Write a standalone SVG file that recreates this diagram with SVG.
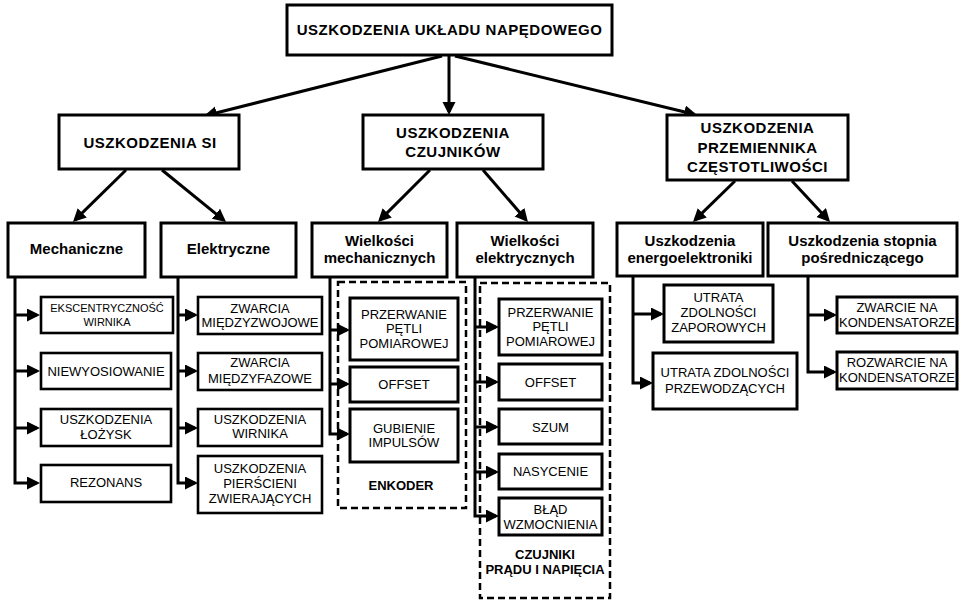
<svg xmlns="http://www.w3.org/2000/svg" width="960" height="601" viewBox="0 0 960 601">
<style>
  .bg{fill:#fff}
  .box{fill:#fff;stroke:#000;stroke-width:3}
  .leaf{fill:#fff;stroke:#000;stroke-width:2.6}
  .dash{fill:none;stroke:#000;stroke-width:2.5;stroke-dasharray:7 4}
  .h1{font-family:"Liberation Sans",Arial,sans-serif;font-weight:bold;font-size:15px;letter-spacing:0.5px;text-anchor:middle;fill:#000}
  .h2{font-family:"Liberation Sans",Arial,sans-serif;font-weight:bold;font-size:15px;text-anchor:middle;fill:#000}
  .t{font-family:"Liberation Sans",Arial,sans-serif;font-size:13px;text-anchor:middle;fill:#000}
  .ts{font-family:"Liberation Sans",Arial,sans-serif;font-size:11px;text-anchor:middle;fill:#000}
  .lab{font-family:"Liberation Sans",Arial,sans-serif;font-weight:bold;font-size:13px;text-anchor:middle;fill:#000}
  .c{fill:none;stroke:#000;stroke-width:3}
  .a{fill:none;stroke:#000;stroke-width:3;marker-end:url(#ah)}
</style>
<defs>
  <marker id="ah" markerUnits="userSpaceOnUse" markerWidth="15" markerHeight="14" refX="10" refY="6.5" orient="auto">
    <path d="M0,0 L13,6.5 L0,13 z" fill="#000"/>
  </marker>
</defs>
<rect class="bg" x="0" y="0" width="960" height="601"/>

<g id="connectors">
  <line class="a" x1="442" y1="56" x2="206.9" y2="115.3"/>
  <line class="a" x1="449" y1="56" x2="449" y2="112"/>
  <line class="a" x1="455" y1="56" x2="694.1" y2="114.3"/>
  <line class="a" x1="126" y1="170" x2="75.1" y2="219.9"/>
  <line class="a" x1="162" y1="170" x2="223.7" y2="220.1"/>
  <line class="a" x1="430" y1="170" x2="380.1" y2="219.9"/>
  <line class="a" x1="483" y1="170" x2="526" y2="219.7"/>
  <line class="a" x1="735" y1="181" x2="695.1" y2="219.9"/>
  <line class="a" x1="792" y1="181" x2="828" y2="219.8"/>
  <!-- Mechaniczne -->
  <path class="a" d="M15,277 V483 H37"/>
  <line class="a" x1="15" y1="315" x2="37" y2="315"/>
  <line class="a" x1="15" y1="371" x2="37" y2="371"/>
  <line class="a" x1="15" y1="428" x2="37" y2="428"/>
  <!-- Elektryczne -->
  <path class="a" d="M178,277 V483 H195"/>
  <line class="a" x1="178" y1="315" x2="195" y2="315"/>
  <line class="a" x1="178" y1="371" x2="195" y2="371"/>
  <line class="a" x1="178" y1="428" x2="195" y2="428"/>
  <!-- Wielkosci mechanicznych -->
  <path class="a" d="M330,277 V434 H347"/>
  <line class="a" x1="330" y1="330" x2="347" y2="330"/>
  <line class="a" x1="330" y1="384" x2="347" y2="384"/>
  <!-- Wielkosci elektrycznych -->
  <path class="a" d="M475,277 V516 H496"/>
  <line class="a" x1="475" y1="327" x2="496" y2="327"/>
  <line class="a" x1="475" y1="382" x2="496" y2="382"/>
  <line class="a" x1="475" y1="427" x2="496" y2="427"/>
  <line class="a" x1="475" y1="472" x2="496" y2="472"/>
  <!-- energoelektroniki -->
  <path class="a" d="M633,276 V383 H650"/>
  <line class="a" x1="633" y1="314" x2="661" y2="314"/>
  <!-- stopnia -->
  <path class="a" d="M808,276 V372 H834"/>
  <line class="a" x1="808" y1="315" x2="834" y2="315"/>
</g>

<g id="root">
  <rect class="box" x="287" y="5" width="325" height="50"/>
  <text class="h1" x="449.5" y="35">USZKODZENIA UKŁADU NAPĘDOWEGO</text>
</g>
<g id="si">
  <rect class="box" x="59" y="115" width="180" height="54"/>
  <text class="h1" x="150" y="148">USZKODZENIA SI</text>
</g>
<g id="czujnikow">
  <rect class="box" x="363" y="115" width="180" height="54"/>
  <text class="h1" x="453" y="138">USZKODZENIA</text>
  <text class="h1" x="453" y="157">CZUJNIKÓW</text>
</g>
<g id="przemiennika">
  <rect class="box" x="667" y="115" width="181" height="65"/>
  <text class="h1" x="757.5" y="133">USZKODZENIA</text>
  <text class="h1" x="757.5" y="153">PRZEMIENNIKA</text>
  <text class="h1" x="757.5" y="172">CZĘSTOTLIWOŚCI</text>
</g>

<g id="mechaniczne">
  <rect class="box" x="8" y="223" width="137" height="54"/>
  <text class="h2" x="76.5" y="254">Mechaniczne</text>
</g>
<g id="elektryczne">
  <rect class="box" x="161" y="223" width="135" height="54"/>
  <text class="h2" x="228.5" y="254">Elektryczne</text>
</g>
<g id="wielkosci-mech">
  <rect class="box" x="312" y="223" width="135" height="54"/>
  <text class="h2" x="379.5" y="246">Wielkości</text>
  <text class="h2" x="379.5" y="263">mechanicznych</text>
</g>
<g id="wielkosci-el">
  <rect class="box" x="457" y="223" width="136" height="54"/>
  <text class="h2" x="525" y="246">Wielkości</text>
  <text class="h2" x="525" y="263">elektrycznych</text>
</g>
<g id="energoelektroniki">
  <rect class="box" x="617" y="223" width="146" height="53"/>
  <text class="h2" x="690" y="246">Uszkodzenia</text>
  <text class="h2" x="690" y="263">energoelektroniki</text>
</g>
<g id="stopnia">
  <rect class="box" x="768" y="223" width="189" height="53"/>
  <text class="h2" x="862.5" y="246">Uszkodzenia stopnia</text>
  <text class="h2" x="862.5" y="263">pośredniczącego</text>
</g>

<!-- Mechaniczne leaves -->
<g id="ekscentrycznosc">
  <rect class="leaf" x="41" y="297" width="132" height="36"/>
  <text class="ts" x="107" y="312">EKSCENTRYCZNOŚĆ</text>
  <text class="ts" x="107" y="326">WIRNIKA</text>
</g>
<g id="niewyosiowanie">
  <rect class="leaf" x="41" y="353" width="130" height="36"/>
  <text class="t" x="106" y="376">NIEWYOSIOWANIE</text>
</g>
<g id="lozysk">
  <rect class="leaf" x="41" y="409" width="130" height="37"/>
  <text class="t" x="106" y="424">USZKODZENIA</text>
  <text class="t" x="106" y="439">ŁOŻYSK</text>
</g>
<g id="rezonans">
  <rect class="leaf" x="41" y="465" width="130" height="37"/>
  <text class="t" x="106" y="487">REZONANS</text>
</g>

<!-- Elektryczne leaves -->
<g id="miedzyzwojowe">
  <rect class="leaf" x="198" y="297" width="124" height="37"/>
  <text class="t" x="260" y="313">ZWARCIA</text>
  <text class="t" x="260" y="327">MIĘDZYZWOJOWE</text>
</g>
<g id="miedzyfazowe">
  <rect class="leaf" x="198" y="353" width="124" height="37"/>
  <text class="t" x="260" y="367">ZWARCIA</text>
  <text class="t" x="260" y="383">MIĘDZYFAZOWE</text>
</g>
<g id="wirnika">
  <rect class="leaf" x="198" y="409" width="124" height="37"/>
  <text class="t" x="260" y="424">USZKODZENIA</text>
  <text class="t" x="260" y="438">WIRNIKA</text>
</g>
<g id="pierscieni">
  <rect class="leaf" x="198" y="456" width="124" height="57"/>
  <text class="t" x="260" y="473">USZKODZENIA</text>
  <text class="t" x="260" y="488">PIERŚCIENI</text>
  <text class="t" x="260" y="503">ZWIERAJĄCYCH</text>
</g>

<!-- Enkoder group -->
<g id="enkoder">
  <rect class="dash" x="338" y="282" width="128" height="226"/>
  <text class="lab" x="401" y="490">ENKODER</text>
</g>
<g id="enk-przerwanie">
  <rect class="box" x="350" y="298" width="108" height="62"/>
  <text class="t" x="404" y="319">PRZERWANIE</text>
  <text class="t" x="404" y="333">PĘTLI</text>
  <text class="t" x="404" y="348">POMIAROWEJ</text>
</g>
<g id="enk-offset">
  <rect class="box" x="350" y="367" width="108" height="35"/>
  <text class="t" x="404" y="389">OFFSET</text>
</g>
<g id="enk-gubienie">
  <rect class="box" x="350" y="409" width="108" height="53"/>
  <text class="t" x="404" y="433">GUBIENIE</text>
  <text class="t" x="404" y="447">IMPULSÓW</text>
</g>

<!-- Czujniki pradu i napiecia group -->
<g id="czujniki-pin">
  <rect class="dash" x="480" y="283" width="130" height="315"/>
  <text class="lab" x="545" y="559">CZUJNIKI</text>
  <text class="lab" x="545" y="574">PRĄDU I NAPIĘCIA</text>
</g>
<g id="el-przerwanie">
  <rect class="box" x="499" y="299" width="103" height="56"/>
  <text class="t" x="550.5" y="317">PRZERWANIE</text>
  <text class="t" x="550.5" y="331">PĘTLI</text>
  <text class="t" x="550.5" y="346">POMIAROWEJ</text>
</g>
<g id="el-offset">
  <rect class="box" x="499" y="364" width="103" height="36"/>
  <text class="t" x="550.5" y="387">OFFSET</text>
</g>
<g id="el-szum">
  <rect class="box" x="499" y="409" width="103" height="35"/>
  <text class="t" x="550.5" y="432">SZUM</text>
</g>
<g id="el-nasycenie">
  <rect class="box" x="499" y="454" width="103" height="35"/>
  <text class="t" x="550.5" y="476">NASYCENIE</text>
</g>
<g id="el-blad">
  <rect class="box" x="499" y="498" width="103" height="37"/>
  <text class="t" x="550.5" y="514">BŁĄD</text>
  <text class="t" x="550.5" y="529">WZMOCNIENIA</text>
</g>

<!-- Energoelektronika leaves -->
<g id="zaporowych">
  <rect class="box" x="664" y="285" width="109" height="57"/>
  <text class="t" x="718.5" y="302">UTRATA</text>
  <text class="t" x="718.5" y="317">ZDOLNOŚCI</text>
  <text class="t" x="718.5" y="332">ZAPOROWYCH</text>
</g>
<g id="przewodzacych">
  <rect class="box" x="653" y="353" width="144" height="56"/>
  <text class="t" x="725" y="377">UTRATA ZDOLNOŚCI</text>
  <text class="t" x="725" y="393">PRZEWODZĄCYCH</text>
</g>

<!-- Stopien posredniczacy leaves -->
<g id="zwarcie-kond">
  <rect class="box" x="837" y="297" width="120" height="36"/>
  <text class="t" x="897" y="312">ZWARCIE NA</text>
  <text class="t" x="897" y="327">KONDENSATORZE</text>
</g>
<g id="rozwarcie-kond">
  <rect class="box" x="837" y="352" width="120" height="37"/>
  <text class="t" x="897" y="367">ROZWARCIE NA</text>
  <text class="t" x="897" y="382">KONDENSATORZE</text>
</g>
</svg>
